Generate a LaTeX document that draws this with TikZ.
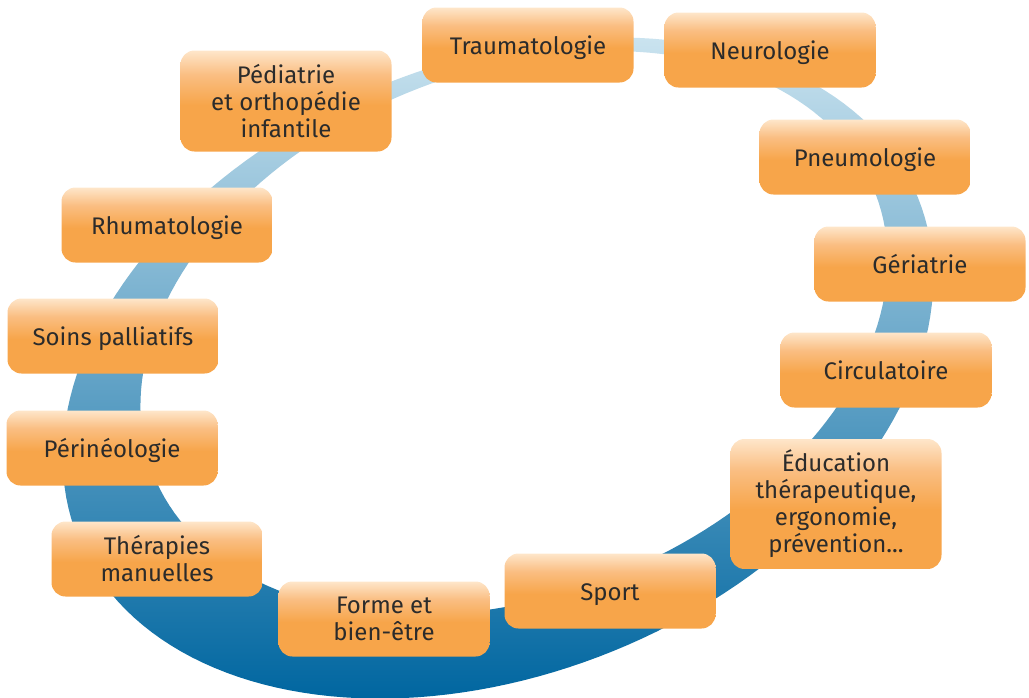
\documentclass[tikz,border=0pt]{standalone}
\usepackage{fontspec}
\setmainfont{Fira Sans}
\usepackage{tikz}

\definecolor{ringtop}{RGB}{202,227,239}
\definecolor{ringbot}{RGB}{0,102,160}
\definecolor{boxorg}{RGB}{247,165,74}
\definecolor{boxmid}{RGB}{250,190,130}
\definecolor{boxtop}{RGB}{254,230,202}
\definecolor{txtgray}{RGB}{43,43,43}

\pgfdeclareverticalshading{boxshade}{100bp}{color(0bp)=(boxorg); color(25bp)=(boxorg); color(48bp)=(boxorg); color(63bp)=(boxmid); color(75bp)=(boxtop); color(100bp)=(boxtop)}

\begin{document}
\begin{tikzpicture}[x=0.5pt,y=-0.5pt,
  spec/.style={shade,shading=boxshade,rounded corners=7pt,minimum width=105.5pt,minimum height=37.5pt,
    inner ysep=5.5pt,align=center,text=txtgray,font=\fontsize{12}{13.5}\selectfont},
  spec1/.style={spec,text height=11pt,text depth=1.5pt}]
  \useasboundingbox (0,0) rectangle (1029,697);
  % the ring: two tilted ellipses
  \shade[top color=ringtop,bottom color=ringbot,even odd rule]
    plot[domain=0:360,samples=181] ({498+419.8*cos(\x)+115.1*sin(\x)},{368-170.7*cos(\x)+283.1*sin(\x)}) -- cycle
    plot[domain=0:360,samples=181] ({514+361.4*cos(\x)+94.6*sin(\x)},{333-139.6*cos(\x)+245.0*sin(\x)}) -- cycle;
  % the boxes
  \node[spec1] (trauma) at (528,45) {Traumatologie};
  \node[spec1] (neuro) at (770,50) {Neurologie};
  \node[spec,minimum height=50.5pt] (pedia) at (286,101) {Pédiatrie\\et orthopédie\\infantile};
  \node[spec1] (pneumo) at (865,157) {Pneumologie};
  \node[spec1] (rhuma) at (167,225) {Rhumatologie};
  \node[spec1] (geria) at (920,264) {Gériatrie};
  \node[spec1] (soins) at (113,336) {Soins palliatifs};
  \node[spec1] (circu) at (886,370) {Circulatoire};
  \node[spec1] (perineo) at (112,448) {Périnéologie};
  \node[spec] (educ) at (836,504) {Éducation\\thérapeutique,\\ergonomie,\\prévention...};
  \node[spec] (therap) at (157,559) {Thérapies\\manuelles};
  \node[spec] (forme) at (384,619) {Forme et\\bien-être};
  \node[spec1] (sport) at (610,591) {Sport};
\end{tikzpicture}
\end{document}
